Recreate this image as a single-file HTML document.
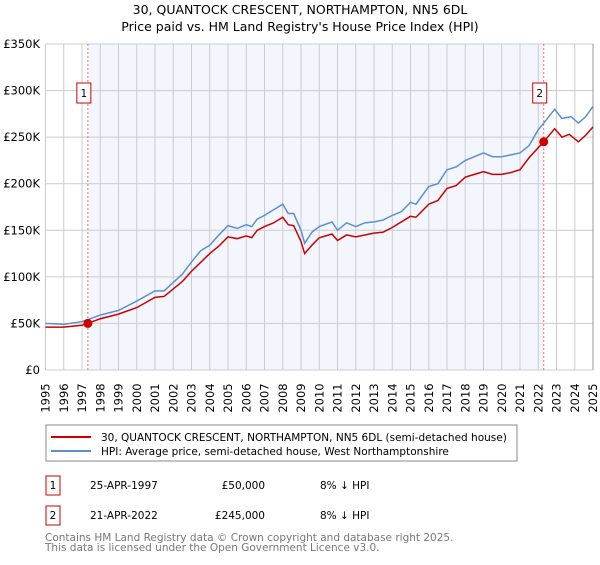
<!DOCTYPE html>
<html><head><meta charset="utf-8"><style>
body{margin:0;background:#fff;font-family:"Liberation Sans","DejaVu Sans",sans-serif}
svg text{font-family:"DejaVu Sans","Liberation Sans",sans-serif}
</style></head><body>
<svg id="chart" width="600" height="560" xmlns="http://www.w3.org/2000/svg">
<text x="300" y="14" text-anchor="middle" font-size="12.5">30, QUANTOCK CRESCENT, NORTHAMPTON, NN5 6DL</text>
<text x="300" y="31" text-anchor="middle" font-size="12.5">Price paid vs. HM Land Registry's House Price Index (HPI)</text>
<g id="plot"></g>
<rect x="46" y="425" width="471" height="36" fill="#fff" stroke="#888"/>
<line x1="51" y1="437" x2="91" y2="437" stroke="#cc0000" stroke-width="2"/>
<text x="101" y="441" font-size="10.5">30, QUANTOCK CRESCENT, NORTHAMPTON, NN5 6DL (semi-detached house)</text>
<line x1="51" y1="451" x2="91" y2="451" stroke="#5b8fd4" stroke-width="2"/>
<text x="101" y="455" font-size="10.5">HPI: Average price, semi-detached house, West Northamptonshire</text>
<g font-size="10.5">
<rect x="46" y="476" width="14" height="19" fill="#fff" stroke="#cc0000"/>
<text x="53" y="489" text-anchor="middle">1</text>
<text x="90" y="489">25-APR-1997</text><text x="265" y="489" text-anchor="end">£50,000</text><text x="320" y="489">8% ↓ HPI</text>
<rect x="46" y="506" width="14" height="19" fill="#fff" stroke="#cc0000"/>
<text x="53" y="519" text-anchor="middle">2</text>
<text x="90" y="519">21-APR-2022</text><text x="265" y="519" text-anchor="end">£245,000</text><text x="320" y="519">8% ↓ HPI</text>
</g>
<text x="45" y="541" font-size="10.5" fill="#777">Contains HM Land Registry data © Crown copyright and database right 2025.</text>
<text x="45" y="551" font-size="10.5" fill="#777">This data is licensed under the Open Government Licence v3.0.</text>
</svg>
<script>
const hpiYears=[1995,1996,1997,1997.3,1998,1999,2000,2001,2001.5,2002,2002.5,2003,2003.5,2004,2004.5,2005,2005.5,2006,2006.3,2006.6,2007,2007.5,2008,2008.3,2008.6,2009,2009.2,2009.6,2010,2010.7,2011,2011.5,2012,2012.5,2013,2013.5,2014,2014.5,2015,2015.3,2016,2016.5,2017,2017.5,2018,2018.5,2019,2019.5,2020,2020.5,2021,2021.5,2022,2022.3,2022.9,2023.3,2023.8,2024.2,2024.6,2025];
const hpiValues=[50,49,52,54,59,64,74,85,85,94,103,116,128,134,145,155,152,156,154,162,166,172,178,168,168,150,136,148,154,159,150,158,154,158,159,161,166,170,180,178,197,200,215,218,225,229,233,229,229,231,233,241,258,265,280,270,272,265,272,283];
const priceYears=[1995,1996,1997,1997.3,1998,1999,2000,2001,2001.5,2002,2002.5,2003,2004,2004.5,2005,2005.5,2006,2006.3,2006.6,2007,2007.5,2008,2008.3,2008.6,2009,2009.2,2009.6,2010,2010.7,2011,2011.5,2012,2013,2013.5,2014,2015,2015.3,2016,2016.5,2017,2017.5,2018,2018.5,2019,2019.5,2020,2020.5,2021,2021.5,2022.3,2022.9,2023.3,2023.7,2024.2,2024.6,2025];
const priceValues=[46,46,48,50,55,60,67,78,79,87,95,106,125,133,143,141,144,142,150,154,158,164,156,155,138,125,134,142,146,139,145,143,147,148,153,165,164,178,182,195,198,207,210,213,210,210,212,215,228,245,259,250,253,245,252,261];
const saleYears=[1997.32,2022.3];
const saleValues=[50,245];
const yTicks=[0,50,100,150,200,250,300,350];
const yTickLabels=["£0","£50K","£100K","£150K","£200K","£250K","£300K","£350K"];
const xTicks=[1995,1996,1997,1998,1999,2000,2001,2002,2003,2004,2005,2006,2007,2008,2009,2010,2011,2012,2013,2014,2015,2016,2017,2018,2019,2020,2021,2022,2023,2024,2025];
const X0=45.5,X1=593,Y0=370,Y1=44;
const xs=y=>X0+(y-1995)/30*(X1-X0);
const ys=v=>Y0-v/350*(Y0-Y1);
const NS="http://www.w3.org/2000/svg";
const g=document.getElementById('plot');
function mk(t,a){const e=document.createElementNS(NS,t);for(const k in a)e.setAttribute(k,a[k]);g.appendChild(e);return e;}
let e=mk('rect',{x:xs(saleYears[0]),y:Y1,width:xs(saleYears[1])-xs(saleYears[0]),height:Y0-Y1,fill:'#f3f6fd'});


xTicks.forEach(t=>{
 const l=mk('line',{x1:xs(t),x2:xs(t),y1:Y1,y2:Y0,stroke:'#ccc','stroke-width':1});
 
 
 const tx=mk('text',{x:0,y:0,'font-size':11.5,transform:`translate(${xs(t)+4},398) rotate(-90)`,'text-anchor':'middle'});
 tx.textContent=t;
 
 
});
yTicks.forEach((t,i)=>{
 const l=mk('line',{x1:X0,x2:X1,y1:ys(t),y2:ys(t),stroke:'#ccc','stroke-width':1});
 
 
 const tx=mk('text',{x:40,y:ys(t)+4,'font-size':11.5,'text-anchor':'end'});
 tx.textContent=yTickLabels[i];
 
 
});
e=mk('line',{x1:X1,x2:X1,y1:Y1,y2:Y0,stroke:'#999'});


saleYears.forEach((s,i)=>{
 const l=mk('line',{x1:xs(s),x2:xs(s),y1:Y1,y2:Y0,stroke:'#f07070','stroke-dasharray':'2,2'});
 
 
 const r=mk('rect',{x:xs(s)-11,y:83,width:14,height:20,fill:'#fff',stroke:'#cc0000'});
 
 
 const t=mk('text',{x:xs(s)-4,y:97,'font-size':10.5,'text-anchor':'middle'});
 t.textContent=String(i+1);
 
 
});
e=mk('polyline',{points:hpiYears.map((y,i)=>xs(y)+','+ys(hpiValues[i])).join(' '),fill:'none',stroke:'#5b8fd4','stroke-width':1.5});


e=mk('polyline',{points:priceYears.map((y,i)=>xs(y)+','+ys(priceValues[i])).join(' '),fill:'none',stroke:'#cc0000','stroke-width':1.5});


saleYears.forEach((s,i)=>{
 const c=mk('circle',{cx:xs(s),cy:ys(saleValues[i]),r:4.5,fill:'#cc0000'});
 
 
});
</script>
</body></html>
